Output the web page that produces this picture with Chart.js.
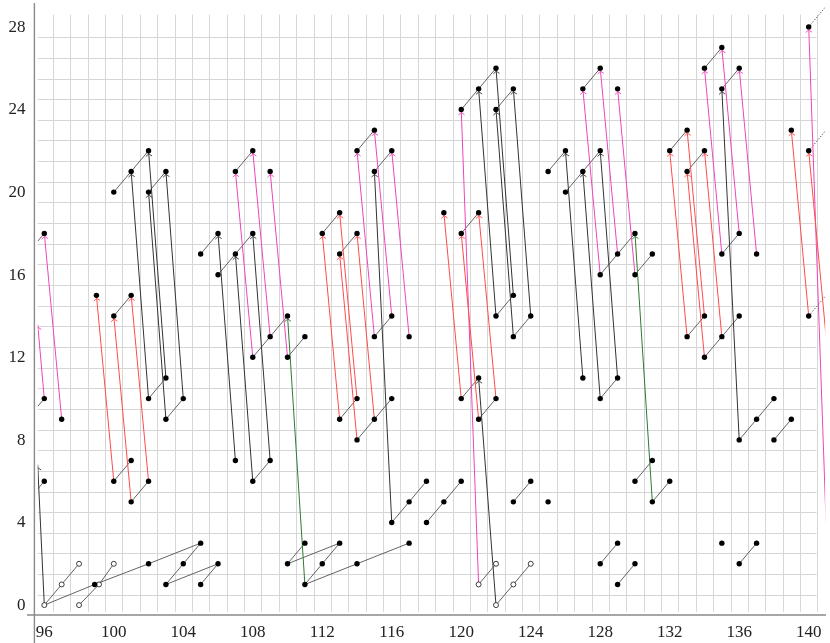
<!DOCTYPE html>
<html lang="en">
<head>
<meta charset="UTF-8">
<title>Chains</title>
<script src="https://cdn.jsdelivr.net/npm/chart.js"></script>
<style>
    body { margin: 0; background: #fff; }
    #wrap { width: 830px; height: 643px; }
</style>
</head>
<body>
<div id="wrap"><canvas id="chart" width="830" height="643"></canvas></div>
<script>
// tick labels
const xTicks = [96, 100, 104, 108, 112, 116, 120, 124, 128, 132, 136, 140];
const yTicks = [0, 4, 8, 12, 16, 20, 24, 28];

// filled nodes
const dots = [
    [96,18],[96,10],[97,9],[96,6],
    [99,15],[100,14],[101,15],
    [100,20],[101,21],[102,22],[102,20],[103,21],
    [100,6],[101,7],[101,5],[102,6],
    [102,10],[103,11],[103,9],[104,10],
    [98.9,1],[102,2],[105,3],[103,1],[104,2],[106,2],[105,1],
    [105,17],[106,18],[106,16],[107,17],[108,18],
    [107,21],[108,22],[109,21],
    [107,7],[108,6],[109,7],
    [108,12],[109,13],[110,14],[110,12],[111,13],
    [110,2],[111,3],[112,2],[113,3],[111,1],[114,2],[117,3],
    [112,18],[113,19],[113,17],[114,18],
    [114,22],[115,23],[115,21],[116,22],
    [113,9],[114,10],[114,8],[115,9],[116,10],
    [115,13],[116,14],[117,13],
    [116,4],[117,5],[118,6],[118,4],[119,5],[120,6],
    [119,19],[120,18],[121,19],
    [120,24],[121,25],[122,26],[122,24],[123,25],
    [120,10],[121,11],[121,9],[122,10],
    [122,14],[123,15],[123,13],[124,14],
    [123,5],[124,6],[125,5],[125,21],
    [126,22],[126,20],[127,21],[128,22],
    [127,25],[128,26],[129,25],
    [128,16],[129,17],[130,18],[130,16],[131,17],
    [127,11],[128,10],[129,11],
    [130,6],[131,7],[131,5],[132,6],
    [128,2],[129,3],[129,1],[130,2],
    [132,22],[133,23],[133,21],[134,22],
    [134,26],[135,27],[135,25],[136,26],
    [133,13],[134,14],[134,12],[135,13],[136,14],
    [135,17],[136,18],[137,17],
    [136,8],[137,9],[138,10],[138,8],[139,9],
    [135,3],[136,2],[137,3],
    [139,23],[140,22],[140,28],[140,14]
];

// hollow nodes
const openDots = [
    [96,0],[97,1],[98,2],[98,0],[99.15,1],[100,2],
    [121,1],[122,2],[122,0],[123,1],[124,2]
];

// short black links (polylines)
const links = [
    [[95.62,17.62],[96,18]], [[95.62,9.62],[96,10]], [[95.62,5.62],[96,6]],
    [[100,14],[101,15]], [[100,20],[101,21],[102,22]], [[102,20],[103,21]],
    [[100,6],[101,7]], [[101,5],[102,6]], [[102,10],[103,11]], [[103,9],[104,10]],
    [[96,0],[98.9,1],[102,2],[105,3]], [[103,1],[104,2],[105,3]], [[103,1],[106,2]], [[105,1],[106,2]],
    [[105,17],[106,18]], [[106,16],[107,17],[108,18]], [[107,21],[108,22]],
    [[108,6],[109,7]], [[108,12],[109,13],[110,14]], [[110,12],[111,13]],
    [[110,2],[111,3]], [[110,2],[113,3]], [[111,1],[112,2],[113,3]], [[111,1],[114,2],[117,3]],
    [[112,18],[113,19]], [[113,17],[114,18]], [[114,22],[115,23]], [[115,21],[116,22]],
    [[113,9],[114,10]], [[114,8],[115,9],[116,10]], [[115,13],[116,14]],
    [[116,4],[117,5],[118,6]], [[118,4],[119,5],[120,6]],
    [[120,18],[121,19]], [[120,24],[121,25],[122,26]], [[122,24],[123,25]],
    [[120,10],[121,11]], [[121,9],[122,10]], [[122,14],[123,15]], [[123,13],[124,14]],
    [[123,5],[124,6]], [[125,21],[126,22]], [[126,20],[127,21],[128,22]],
    [[127,25],[128,26]], [[128,16],[129,17],[130,18]], [[130,16],[131,17]],
    [[128,10],[129,11]], [[130,6],[131,7]], [[131,5],[132,6]],
    [[128,2],[129,3]], [[129,1],[130,2]],
    [[132,22],[133,23]], [[133,21],[134,22]], [[134,26],[135,27]], [[135,25],[136,26]],
    [[133,13],[134,14]], [[134,12],[135,13],[136,14]], [[135,17],[136,18]],
    [[136,8],[137,9],[138,10]], [[138,8],[139,9]], [[136,2],[137,3]]
];

const openLinks = [
    [[96,0],[97,1],[98,2]], [[98,0],[99.15,1],[100,2]],
    [[121,1],[122,2]], [[122,0],[123,1],[124,2]]
];

// dotted continuations off the right edge
const dottedLinks = [
    [[140,28],[141,29]], [[140,22],[141,23]], [[140,14],[141,15]]
];

// long jumps, [xFrom, yFrom, xTo, yTo], arrow at the "to" end
const redArrows = [
    [100,6,99,15],[101,5,100,14],[102,6,101,15],
    [113,9,112,18],[114,10,113,19],[114,8,113,17],[115,9,114,18],
    [120,10,119,19],[121,9,120,18],[122,10,121,19],
    [133,13,132,22],[134,14,133,23],[134,12,133,21],[135,13,134,22],
    [140,14,139,23],[141,13,140,22]
];
const pinkArrows = [
    [96,10,95.62,13.6],[97,9,96,18],
    [108,12,107,21],[109,13,108,22],[110,12,109,21],
    [115,13,114,22],[116,14,115,23],[117,13,116,22],
    [121,1,120,24],
    [128,16,127,25],[129,17,128,26],[130,16,129,25],
    [135,17,134,26],[136,18,135,27],[137,17,136,26],
    [141,4,140,28]
];
const blackArrows = [
    [96,0,95.62,6.8],
    [102,10,101,21],[103,11,102,22],[103,9,102,20],[104,10,103,21],
    [107,7,106,18],[108,6,107,17],[109,7,108,18],
    [116,4,115,21],[122,0,121,11],
    [122,14,121,25],[123,15,122,26],[123,13,122,24],[124,14,123,25],
    [127,11,126,22],[128,10,127,21],[129,11,128,22],
    [136,8,135,25]
];
const greenArrows = [
    [111,1,110,14],[131,5,130,18]
];

const RED = '#ff4b4b', PINK = '#ef45b9', BLACK = '#333333', GREEN = '#2f7a2f';
const arrowSets = [[redArrows, RED], [pinkArrows, PINK], [blackArrows, BLACK], [greenArrows, GREEN]];

const pt = ([x, y]) => ({ x, y });
const datasets = [];

datasets.push({ data: dots.map(pt), pointRadius: 2.7, pointBackgroundColor: '#000',
    pointBorderWidth: 0, showLine: false, order: 0 });
datasets.push({ data: openDots.map(pt), pointRadius: 2.5, pointBackgroundColor: '#fff',
    pointBorderColor: '#111', pointBorderWidth: 0.8, showLine: false, order: 0 });

links.forEach(l => datasets.push({ data: l.map(pt), showLine: true, borderColor: '#3c3c3c',
    borderWidth: 0.8, pointRadius: 0, order: 2 }));
openLinks.forEach(l => datasets.push({ data: l.map(pt), showLine: true, borderColor: '#3c3c3c',
    borderWidth: 0.8, pointRadius: 0, order: 2 }));
dottedLinks.forEach(l => datasets.push({ data: l.map(pt), showLine: true, borderColor: '#444',
    borderWidth: 1, borderDash: [1.2, 1.8], pointRadius: 0, order: 2 }));
arrowSets.forEach(([list, color]) => list.forEach(a => datasets.push({
    data: [{ x: a[0], y: a[1] }, { x: a[2], y: a[3] }], showLine: true,
    borderColor: color, borderWidth: 1, pointRadius: 0, order: 1 })));

// grid of half-step lines, clipped to its own box
const gridPlugin = {
    id: 'grid',
    beforeDatasetsDraw(chart) {
        const { ctx, scales: { x, y } } = chart;
        ctx.save();
        ctx.strokeStyle = '#d6d6d6';
        ctx.lineWidth = 1;
        const gx0 = x.getPixelForValue(95.62), gx1 = x.getPixelForValue(140.45);
        const gy0 = y.getPixelForValue(-0.32), gy1 = y.getPixelForValue(28.59);
        for (let v = 96.5; v <= 140.5; v += 1) {
            const px = Math.round(x.getPixelForValue(v)) + 0.5;
            ctx.beginPath(); ctx.moveTo(px, gy0); ctx.lineTo(px, gy1); ctx.stroke();
        }
        for (let v = 0.5; v <= 27.5; v += 1) {
            const py = Math.round(y.getPixelForValue(v)) + 0.5;
            ctx.beginPath(); ctx.moveTo(gx0, py); ctx.lineTo(gx1, py); ctx.stroke();
        }
        ctx.restore();
    }
};

// arrow tips just short of the target node
const arrowPlugin = {
    id: 'arrows',
    afterDatasetsDraw(chart) {
        const { ctx, chartArea: a, scales: { x, y } } = chart;
        ctx.save();
        ctx.beginPath(); ctx.rect(a.left, a.top, a.right - a.left, a.bottom - a.top); ctx.clip();
        ctx.lineWidth = 0.9;
        arrowSets.forEach(([list, color]) => {
            ctx.strokeStyle = color;
            list.forEach(d => {
                const x0 = x.getPixelForValue(d[0]), y0 = y.getPixelForValue(d[1]);
                const x1 = x.getPixelForValue(d[2]), y1 = y.getPixelForValue(d[3]);
                const len = Math.hypot(x1 - x0, y1 - y0);
                const ux = (x0 - x1) / len, uy = (y0 - y1) / len;
                const tx = x1 + ux * 3, ty = y1 + uy * 3;
                const ang = 0.9, L = 4;
                const c = Math.cos(ang), s = Math.sin(ang);
                ctx.beginPath();
                ctx.moveTo(tx + L * (ux * c - uy * s), ty + L * (ux * s + uy * c));
                ctx.lineTo(tx, ty);
                ctx.lineTo(tx + L * (ux * c + uy * s), ty + L * (-ux * s + uy * c));
                ctx.stroke();
            });
        });
        ctx.restore();
    }
};

// axis lines and tick labels
const axesPlugin = {
    id: 'axes',
    afterDraw(chart) {
        const { ctx, scales: { x, y } } = chart;
        ctx.save();
        ctx.strokeStyle = '#8a8a8a';
        ctx.lineWidth = 1.4;
        const ax = x.getPixelForValue(95.43), ay = y.getPixelForValue(-0.48);
        ctx.beginPath(); ctx.moveTo(ax, 3); ctx.lineTo(ax, 643); ctx.stroke();
        ctx.beginPath(); ctx.moveTo(27, ay); ctx.lineTo(826, ay); ctx.stroke();
        ctx.fillStyle = '#222';
        ctx.font = '17px "Liberation Serif", serif';
        ctx.textAlign = 'right'; ctx.textBaseline = 'middle';
        yTicks.forEach(v => ctx.fillText(String(v), 25.5, y.getPixelForValue(v) + 0.5));
        ctx.textAlign = 'center';
        xTicks.forEach(v => ctx.fillText(String(v), x.getPixelForValue(v), 633));
        ctx.restore();
    }
};

new Chart(document.getElementById('chart'), {
    type: 'scatter',
    data: { datasets },
    options: {
        responsive: false,
        animation: false,
        layout: { padding: { left: 37.7, right: 3.1, top: 0, bottom: 28 } },
        plugins: { legend: { display: false }, tooltip: { enabled: false } },
        scales: {
            x: { type: 'linear', min: 95.62, max: 140.95, display: false },
            y: { type: 'linear', min: -0.48, max: 29.07, display: false }
        }
    },
    plugins: [gridPlugin, arrowPlugin, axesPlugin]
});
</script>
</body>
</html>
